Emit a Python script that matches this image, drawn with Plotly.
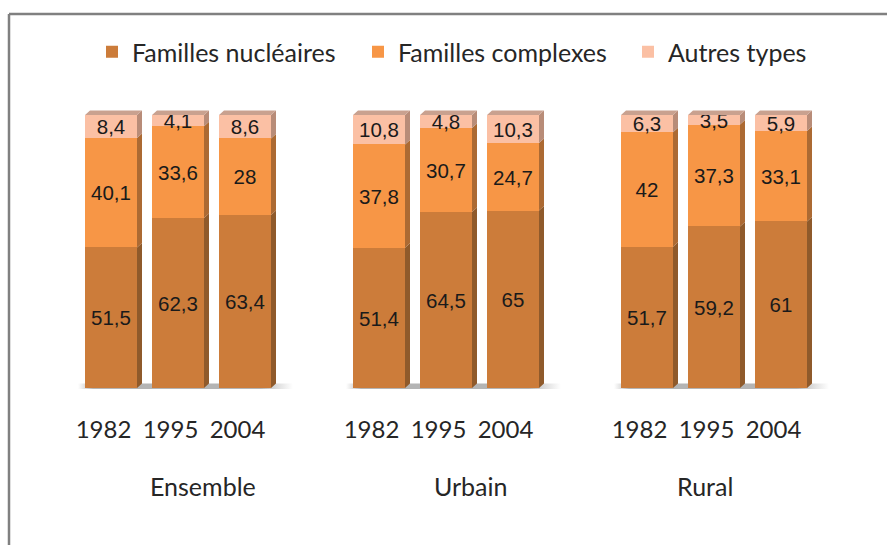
import plotly.graph_objects as go

groups = ["Ensemble", "Urbain", "Rural"]
years = ["1982", "1995", "2004"]
nucleaires = [51.5, 62.3, 63.4, 51.4, 64.5, 65, 51.7, 59.2, 61]
complexes = [40.1, 33.6, 28, 37.8, 30.7, 24.7, 42, 37.3, 33.1]
autres = [8.4, 4.1, 8.6, 10.8, 4.8, 10.3, 6.3, 3.5, 5.9]
positions = [0, 1, 2, 4, 5, 6, 8, 9, 10]
series = [
    ("Familles nucléaires", nucleaires, "#CC7C3A", "#8F5A2B", 221),
    ("Familles complexes", complexes, "#F79646", "#AC6A33", 225),
    ("Autres types", autres, "#FBC0A4", "#B88C78", 150),
]
top_colour = "#C9A18F"

W, H = 887, 545
T, B = 95, 395
PX_X = 67.0
PX_Y = 2.73
X0_PX = 111.0
Y0_PX = 388.0
BAR = 52 / PX_X
DX = 5 / PX_X
DY = 4.5 / PX_Y

fig = go.Figure()

# floor strip under each group of bars (on the base axis, so the bars cover it)
for g in range(3):
    xa = positions[g * 3] - 33 / PX_X
    xb = positions[g * 3] + 182 / PX_X
    fig.add_trace(go.Scatter(
        x=[xa, xb, xb, xa, xa], y=[-0.4, -0.4, DY, DY, -0.4], mode="lines",
        line=dict(width=0), fill="toself", showlegend=False, hoverinfo="skip",
        fillgradient=dict(type="horizontal", colorscale=[
            [0, "rgba(190,190,190,0)"], [0.07, "#B4B4B4"], [0.85, "#B4B4B4"], [1, "rgba(190,190,190,0)"]]),
    ))

# depth faces computed from the stacked values
base = [0.0] * len(positions)
for name, vals, col, side, lw in series:
    xs, ys = [], []
    for i, p in enumerate(positions):
        r = p + BAR / 2
        b, t = base[i], base[i] + vals[i]
        xs += [r, r + DX, r + DX, r, r, None]
        ys += [b, b + DY, t + DY, t, b, None]
    fig.add_trace(go.Scatter(x=xs, y=ys, yaxis="y2", mode="lines", line=dict(width=0), fill="toself",
                             fillcolor=side, showlegend=False, hoverinfo="skip"))
    base = [b + v for b, v in zip(base, vals)]

xs, ys = [], []
for i, p in enumerate(positions):
    l, r = p - BAR / 2, p + BAR / 2
    xs += [l, r, r + DX, l + DX, l, None]
    ys += [base[i], base[i], base[i] + DY, base[i] + DY, base[i], None]
fig.add_trace(go.Scatter(x=xs, y=ys, yaxis="y2", mode="lines", line=dict(width=0), fill="toself",
                         fillcolor=top_colour, showlegend=False, hoverinfo="skip"))

for name, vals, col, side, lw in series:
    fig.add_trace(go.Bar(
        x=positions, y=vals, yaxis="y2", name=name, legendwidth=lw, width=BAR,
        marker=dict(color=col, line=dict(width=0)),
        text=[str(v).replace(".", ",") for v in vals], textposition="inside",
        insidetextanchor="middle", textangle=0, constraintext="none",
        textfont=dict(family="Liberation Sans", size=20.5, color="#1a1a1a"),
    ))

y_range = [(Y0_PX - B) / PX_Y, (Y0_PX - T) / PX_Y]
tick_vals = [p - 7.5 / PX_X for p in positions]
fig.update_xaxes(range=[-X0_PX / PX_X, (W - X0_PX) / PX_X], tickmode="array", tickvals=tick_vals,
                 ticktext=years * 3, showgrid=False, zeroline=False, showline=False,
                 ticks="outside", ticklen=13, tickcolor="rgba(0,0,0,0)",
                 tickfont=dict(family="Lato", size=24, color="#262626"))
fig.update_layout(yaxis=dict(range=y_range, visible=False),
                  yaxis2=dict(range=y_range, visible=False, overlaying="y"))

for g, cx in zip(groups, [203, 471, 705]):
    fig.add_annotation(text=g, x=cx / W, y=(B - 486) / (B - T), xref="paper", yref="paper",
                       xanchor="center", yanchor="middle", showarrow=False,
                       font=dict(family="Lato", size=25, color="#262626"))

GREY = "#808080"
fig.add_shape(type="line", xref="paper", yref="paper", x0=9 / W, x1=1, y0=(B - 14) / (B - T), y1=(B - 14) / (B - T),
              line=dict(color=GREY, width=2.5))
fig.add_shape(type="line", xref="paper", yref="paper", x0=9 / W, x1=9 / W, y0=(B - 14) / (B - T), y1=(B - H) / (B - T),
              line=dict(color=GREY, width=2.5))

fig.update_layout(
    barmode="stack", width=W, height=H, margin=dict(l=0, r=0, t=T, b=H - B), bargap=0,
    plot_bgcolor="white", paper_bgcolor="white", autosize=False,
    legend=dict(orientation="h", x=92 / W, xanchor="left", y=(B - 29) / (B - T), yanchor="top",
                traceorder="normal", font=dict(family="Lato", size=25, color="#262626"),
                itemwidth=30, bgcolor="rgba(0,0,0,0)"),
)
fig.write_html("out.html", post_script="document.body.style.margin='0';",
               config={"displayModeBar": False})
